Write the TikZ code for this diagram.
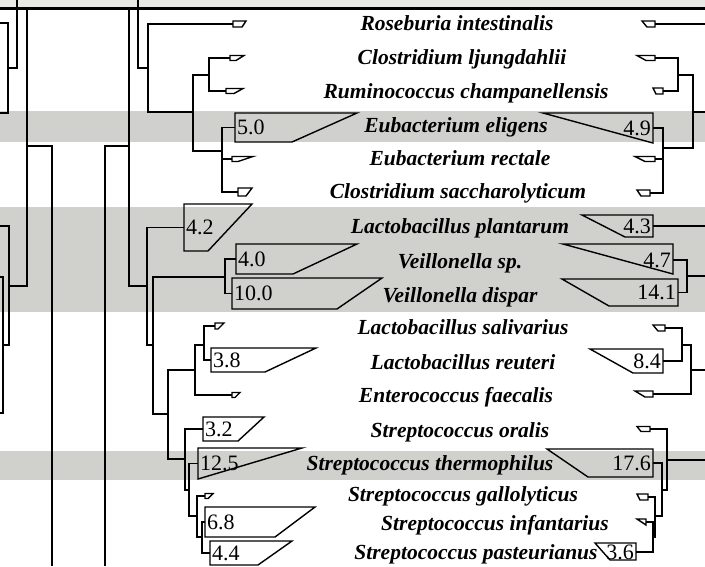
\documentclass[tikz,border=0pt]{standalone}
\usepackage{fontspec}
\setmainfont{Liberation Serif}
\usepackage{tikz}
\usetikzlibrary{calc}

\definecolor{bandgray}{RGB}{208,208,204}
\definecolor{stripgray}{RGB}{232,232,228}

\begin{document}
\begin{tikzpicture}[
  x=1pt,
  y=-1pt,
  branch/.style={draw=black,line width=1.6pt},
  wedge/.style={draw=black,line width=1.4pt,line join=miter},
  taxon/.style={font=\fontsize{21.5}{22}\selectfont\bfseries\itshape,anchor=base,inner sep=0pt},
  valL/.style={font=\fontsize{22}{22}\selectfont,anchor=west,inner xsep=2pt,inner ysep=0pt},
  valR/.style={font=\fontsize{22}{22}\selectfont,anchor=east,inner xsep=2pt,inner ysep=0pt}
]
  \useasboundingbox (0,0) rectangle (705,566);

  % shaded rows and header
  \fill[stripgray] (0,0) rectangle (705,7);
  \fill[bandgray] (0,111) rectangle (705,142);
  \fill[bandgray] (0,207) rectangle (705,312);
  \fill[bandgray] (0,451) rectangle (705,480);
  \draw[line width=2.8pt] (0,8.2) -- (705,8.2);

  % cut lines at the left border
  \draw[branch] (17,0) -- (17,68) -- (8,68);
  \draw[branch] (0,23) -| (8,113) -- (0,113);
  \draw[branch] (27,8) -- (27,286) -- (9,286);
  \draw[branch] (27,146) -| (52,566);
  \draw[branch] (0,226) -| (9,345) -- (3,345);
  \draw[branch] (0,277) -| (3,413) -- (0,413);
  \draw[branch] (129,146) -| (105,566);

  % taxa
  \node[taxon] (t01) at (457,30) {Roseburia intestinalis};
  \node[taxon] (t02) at (462,64) {Clostridium ljungdahlii};
  \node[taxon] (t03) at (466,98) {Ruminococcus champanellensis};
  \node[taxon] (t04) at (456,132) {Eubacterium eligens};
  \node[taxon] (t05) at (460,165) {Eubacterium rectale};
  \node[taxon] (t06) at (458,198) {Clostridium saccharolyticum};
  \node[taxon] (t07) at (460,233) {Lactobacillus plantarum};
  \node[taxon] (t08) at (460,268) {Veillonella sp.};
  \node[taxon] (t09) at (460,302) {Veillonella dispar};
  \node[taxon] (t10) at (463,334) {Lactobacillus salivarius};
  \node[taxon] (t11) at (463,369) {Lactobacillus reuteri};
  \node[taxon] (t12) at (456,402) {Enterococcus faecalis};
  \node[taxon] (t13) at (460,437) {Streptococcus oralis};
  \node[taxon] (t14) at (430,470) {Streptococcus thermophilus};
  \node[taxon] (t15) at (463,501) {Streptococcus gallolyticus};
  \node[taxon] (t16) at (495,530) {Streptococcus infantarius};
  \node[taxon] (t17) at (476,559) {Streptococcus pasteurianus};

  % left tree: values
  \node[valL] (v50) at (235,127.5) {5.0};
  \node[valL] (v42) at (184,227.5) {4.2};
  \node[valL] (v40) at (236,259) {4.0};
  \node[valL] (v100) at (232,293.5) {10.0};
  \node[valL] (v38) at (211,360) {3.8};
  \node[valL] (v32) at (203,429) {3.2};
  \node[valL] (v125) at (198,463.5) {12.5};
  \node[valL] (v68) at (205,522) {6.8};
  \node[valL] (v44) at (210,553) {4.4};
  \draw[wedge] (v50.west) ++(0,-14.5) -- ++(122,0) -- ++(-65,29) -- ++(-57,0) -- cycle;
  \draw[wedge] (v42.west) ++(0,-23.5) -- ++(68,0) -- ++(-44,47) -- ++(-24,0) -- cycle;
  \draw[wedge] (v40.west) ++(0,-15) -- ++(121,0) -- ++(-64,30) -- ++(-57,0) -- cycle;
  \draw[wedge] (v100.west) ++(0,-15.5) -- ++(150,0) -- ++(-45,31) -- ++(-105,0) -- cycle;
  \draw[wedge] (v38.west) ++(0,-12) -- ++(105,0) -- ++(-51,24) -- ++(-54,0) -- cycle;
  \draw[wedge] (v32.west) ++(0,-12) -- ++(61,0) -- ++(-26,24) -- ++(-35,0) -- cycle;
  \draw[wedge] (v125.west) ++(0,-15.5) -- ++(104,0) -- ++(-104,31) -- cycle;
  \draw[wedge] (v68.west) ++(0,-15) -- ++(110,0) -- ++(-40,30) -- ++(-70,0) -- cycle;
  \draw[wedge] (v44.west) ++(0,-12) -- ++(82,0) -- ++(-34,24) -- ++(-48,0) -- cycle;

  % left tree: small leaves
  \coordinate (lrose) at (233,24);
  \coordinate (lclj) at (230,58);
  \coordinate (lrum) at (226,91);
  \coordinate (lrec) at (232,159);
  \coordinate (lsac) at (238,192);
  \coordinate (lsal) at (215,326);
  \coordinate (lfae) at (232,395);
  \coordinate (lgal) at (205,496);
  \draw[wedge] (lrose) ++(0,-3) -- ++(13,0) -- ++(-4,6) -- ++(-9,0) -- cycle;
  \draw[wedge] (lclj) ++(0,-2.5) -- ++(14,0) -- ++(-8,5) -- ++(-6,0) -- cycle;
  \draw[wedge] (lrum) ++(0,-2.5) -- ++(17,0) -- ++(-9,5) -- ++(-8,0) -- cycle;
  \draw[wedge] (lrec) ++(0,-2.5) -- ++(21,0) -- ++(-15,5) -- ++(-6,0) -- cycle;
  \draw[wedge] (lsac) ++(0,-4) -- ++(14,0) -- ++(-6,8) -- ++(-8,0) -- cycle;
  \draw[wedge] (lsal) ++(0,-3) -- ++(9,0) -- ++(-6,6) -- ++(-3,0) -- cycle;
  \draw[wedge] (lfae) ++(0,-2.5) -- ++(8,0) -- ++(-5,5) -- ++(-3,0) -- cycle;
  \draw[wedge] (lgal) ++(0,-2.5) -- ++(8,0) -- ++(-5,5) -- ++(-3,0) -- cycle;

  % left tree: branches
  \coordinate (lA) at (148,68);
  \coordinate (lB) at (193,112);
  \coordinate (lC) at (209,75);
  \coordinate (lD) at (222,151);
  \draw[branch] (138,0) -- (138,68) -- (lA);
  \draw[branch] (lrose) -| (lA) |- (lB);
  \draw[branch] (lC) -| (lB) |- (lD);
  \draw[branch] (lclj) -| (lC) |- (lrum);
  \draw[branch] (v50.west) -| (lD) |- (lsac);
  \draw[branch] (lD |- lrec) -- (lrec);

  \coordinate (lT) at (147,286);
  \coordinate (lU) at (153,345);
  \coordinate (lV) at (225,277);
  \coordinate (lW) at (168,414);
  \coordinate (lX) at (195,370);
  \coordinate (lZ) at (204,345);
  \coordinate (lY) at (185,459);
  \coordinate (lAA) at (189,490);
  \coordinate (lAB) at (197,516);
  \coordinate (lAC) at (202,537);
  \draw[branch] (129,8) -- (129,286) -- (lT);
  \draw[branch] (v42.west) -| (lT) |- (lU);
  \draw[branch] (lV) -| (lU) |- (lW);
  \draw[branch] (v40.west) -| (lV) |- (v100.west);
  \draw[branch] (lX) -| (lW) |- (lY);
  \draw[branch] (lZ) -| (lX) |- (lfae);
  \draw[branch] (lsal) -| (lZ) |- (v38.west);
  \draw[branch] (v32.west) -| (lY) |- (lAA);
  \draw[branch] (v125.west) -| (lAA) |- (lAB);
  \draw[branch] (lgal) -| (lAB) |- (lAC);
  \draw[branch] (v68.west) -| (lAC) |- (v44.west);

  % right tree: values
  \node[valR] (v49) at (653,128) {4.9};
  \node[valR] (v43) at (653,226) {4.3};
  \node[valR] (v47) at (673,260) {4.7};
  \node[valR] (v141) at (678,292.5) {14.1};
  \node[valR] (v84) at (663,361) {8.4};
  \node[valR] (v176) at (653,463) {17.6};
  \node[valR] (v36) at (636,552) {3.6};
  \draw[wedge] (v49.east) ++(0,-15) -- ++(-110,0) -- ++(110,30) -- cycle;
  \draw[wedge] (v43.east) ++(0,-11) -- ++(-71,0) -- ++(43,22) -- ++(28,0) -- cycle;
  \draw[wedge] (v47.east) ++(0,-16) -- ++(-110,0) -- ++(110,30) -- cycle;
  \draw[wedge] (v141.east) ++(0,-13.5) -- ++(-116,0) -- ++(47,27) -- ++(69,0) -- cycle;
  \draw[wedge] (v84.east) ++(0,-12) -- ++(-73,0) -- ++(43,24) -- ++(30,0) -- cycle;
  \draw[wedge] (v176.east) ++(0,-14) -- ++(-106,0) -- ++(41,28) -- ++(65,0) -- cycle;
  \draw[wedge] (v36.east) ++(0,-9) -- ++(-41,0) -- ++(15,17) -- ++(26,0) -- cycle;

  % right tree: small leaves
  \coordinate (rrose) at (655,24);
  \coordinate (rclj) at (655,58);
  \coordinate (rrum) at (663,91);
  \coordinate (rrec) at (655,159);
  \coordinate (rsac) at (650,193);
  \coordinate (rsal) at (665,328);
  \coordinate (rfae) at (653,394);
  \coordinate (rora) at (650,429);
  \coordinate (rgal) at (648,497);
  \coordinate (rinf) at (646,522);
  \draw[wedge] (rrose) ++(0,-3) -- ++(-13,0) -- ++(5,6) -- ++(8,0) -- cycle;
  \draw[wedge] (rclj) ++(0,-2.5) -- ++(-18,0) -- ++(9,5) -- ++(9,0) -- cycle;
  \draw[wedge] (rrum) ++(0,-3) -- ++(-10,0) -- ++(3,6) -- ++(7,0) -- cycle;
  \draw[wedge] (rrec) ++(0,-2.5) -- ++(-20,0) -- ++(10,5) -- ++(10,0) -- cycle;
  \draw[wedge] (rsac) ++(0,-3) -- ++(-13,0) -- ++(4,6) -- ++(9,0) -- cycle;
  \draw[wedge] (rsal) ++(0,-3) -- ++(-12,0) -- ++(5,6) -- ++(7,0) -- cycle;
  \draw[wedge] (rfae) ++(0,-3) -- ++(-18,0) -- ++(10,6) -- ++(8,0) -- cycle;
  \draw[wedge] (rora) ++(0,-2.5) -- ++(-13,0) -- ++(4,5) -- ++(9,0) -- cycle;
  \draw[wedge] (rgal) ++(0,-3) -- ++(-11,0) -- ++(3,6) -- ++(8,0) -- cycle;
  \draw[wedge] (rinf) ++(0,-3) -- ++(-9,0) -- ++(9,6) -- cycle;

  % right tree: branches
  \coordinate (rR) at (678,75);
  \coordinate (rQ) at (693,112);
  \coordinate (rS) at (663,148);
  \draw[branch] (rrose) -- ++(52,0);
  \draw[branch] (rclj) -| (rR) |- (rrum);
  \draw[branch] (rR) -| (rQ) |- (rS);
  \draw[branch] (rQ) -- ++(14,0);
  \draw[branch] (v49.east) -| (rS) |- (rsac);
  \draw[branch] (rS |- rrec) -- (rrec);
  \draw[branch] (v43.east) -- ++(54,0);

  \coordinate (rV) at (687,276);
  \coordinate (rZ) at (682,345);
  \coordinate (rX) at (691,370);
  \draw[branch] (v47.east) -| (rV) |- (v141.east);
  \draw[branch] (rV) -- ++(20,0);
  \draw[branch] (rsal) -| (rZ) |- (v84.east);
  \draw[branch] (rZ) -| (rX) |- (rfae);
  \draw[branch] (rX) -- ++(16,0);

  \coordinate (rY) at (667,460);
  \coordinate (rAA) at (662,490);
  \coordinate (rAB) at (655,516);
  \coordinate (rAC) at (653,537);
  \draw[branch] (rora) -| (rY) |- (rAA);
  \draw[branch] (rY) -- ++(40,0);
  \draw[branch] (v176.east) -| (rAA) |- (rAB);
  \draw[branch] (rgal) -| (rAB) |- (rAC);
  \draw[branch] (rinf) -| (rAC) |- (v36.east);
\end{tikzpicture}
\end{document}
